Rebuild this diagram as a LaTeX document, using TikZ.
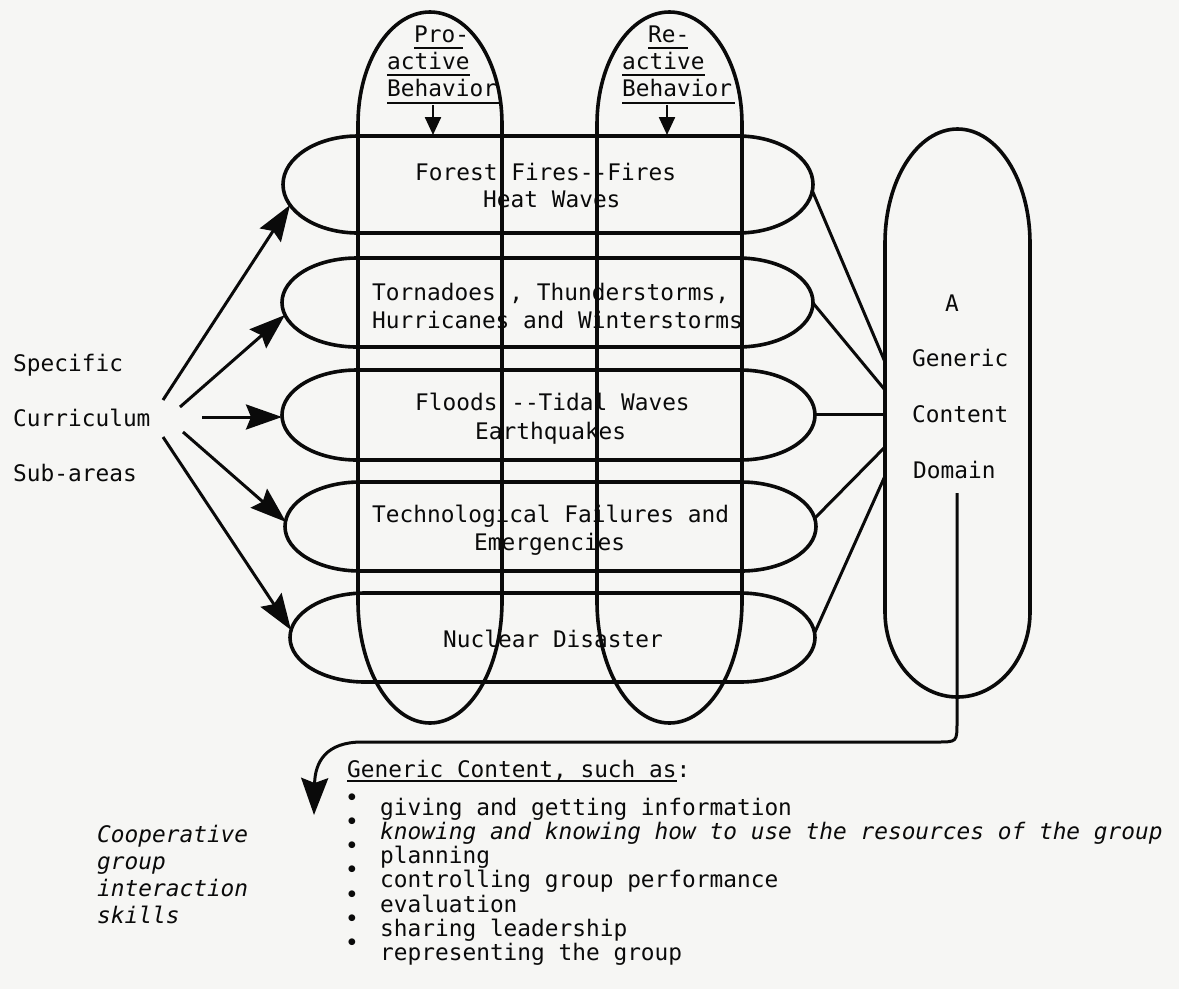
\documentclass[tikz,border=0pt]{standalone}
\usepackage{fontspec}
\setmainfont{DejaVu Sans Mono}[ItalicFont={DejaVu Sans Mono Oblique}]
\newfontfamily\symbolfont{DejaVu Sans}
\usetikzlibrary{arrows.meta,calc}

\definecolor{paper}{RGB}{246,246,244}
\definecolor{ink}{RGB}{10,10,10}

\tikzset{
  outline/.style={draw=ink, line width=3.6pt},
  link/.style={draw=ink, line width=3pt},
  fanarrow/.style={link, -{Stealth[length=36pt,width=25pt,inset=5pt]}},
  droparrow/.style={link, -{Stealth[length=37pt,width=27pt,inset=5pt]}},
  tagarrow/.style={draw=ink, line width=2.4pt, -{Triangle[length=18pt,width=16pt]}},
  txt/.style={anchor=base west, inner sep=0pt, text=ink, font=\fontsize{22.8}{27}\selectfont},
  dot/.style={anchor=center, inner sep=0pt, text=ink, font=\symbolfont\fontsize{8.8}{10}\selectfont},
  uline/.style={draw=ink, line width=1.4pt},
}

% horizontal stadium: left tip, right tip, top, bottom
\newcommand\hstadium[4]{%
  \draw[outline] ({#1+75},#3) -- ({#2-75},#3)
    arc[start angle=-90, end angle=90, x radius=75, y radius={(#4-#3)/2}]
    -- ({#1+75},#4)
    arc[start angle=90, end angle=270, x radius=75, y radius={(#4-#3)/2}]
    -- cycle;}

% vertical stadium: left, right, top, bottom, top cap depth, bottom cap depth
\newcommand\vstadium[6]{%
  \draw[outline] (#1,{#3+#5}) -- (#1,{#4-#6})
    arc[start angle=180, end angle=0, x radius={(#2-#1)/2}, y radius=#6]
    -- (#2,{#3+#5})
    arc[start angle=0, end angle=-180, x radius={(#2-#1)/2}, y radius=#5]
    -- cycle;}

\begin{document}
\begin{tikzpicture}[x=1pt, y=-1pt]
\useasboundingbox (0,0) rectangle (1179,989);
\fill[paper] (0,0) rectangle (1179,989);

% five curriculum sub-areas
\hstadium{283}{813}{136}{233}
\hstadium{282}{813}{258}{347}
\hstadium{282}{815}{370}{460}
\hstadium{285}{816}{482}{571}
\hstadium{290}{815}{593}{682}

% behaviour columns and the generic domain
\vstadium{358}{502}{12}{723}{112}{122}
\vstadium{597}{742}{12}{723}{112}{122}
\vstadium{885}{1030}{129}{697}{114}{85}

% left labels
\node[txt] (spec) at (13,371) {Specific};
\node[txt] (curr) at (13,426) {Curriculum};
\node[txt] (suba) at (13,481) {Sub-areas};

% column headings
\node[txt] (pro1) at (414,42) {Pro-};
\node[txt] (pro2) at (387,69) {active};
\node[txt] (pro3) at (387,96) {Behavior};
\node[txt] (re1) at (648,42) {Re-};
\node[txt] (re2) at (622,69) {active};
\node[txt] (re3) at (622,96) {Behavior};
\draw[uline] ($(pro1.base west)+(0,6)$) -- ($(pro1.base east)+(-6,6)$);
\draw[uline] ($(pro2.base west)+(0,6)$) -- ($(pro2.base east)+(0,6)$);
\draw[uline] ($(pro3.base west)+(0,7)$) -- ($(pro3.base east)+(3,7)$);
\draw[uline] ($(re1.base west)+(0,6)$) -- ($(re1.base east)+(-2,6)$);
\draw[uline] ($(re2.base west)+(0,6)$) -- ($(re2.base east)+(0,6)$);
\draw[uline] ($(re3.base west)+(0,7)$) -- ($(re3.base east)+(3,7)$);

% sub-area texts
\node[txt] (t1a) at (415,180) {Forest Fires-{}-Fires};
\node[txt] (t1b) at (483,207) {Heat Waves};
\node[txt] (t2a) at (372,300) {Tornadoes , Thunderstorms,};
\node[txt] (t2b) at (372,328) {Hurricanes and Winterstorms};
\node[txt] (t3a) at (415,410) {Floods -{}-Tidal Waves};
\node[txt] (t3b) at (475,439) {Earthquakes};
\node[txt] (t4a) at (372,522) {Technological Failures and};
\node[txt] (t4b) at (474,550) {Emergencies};
\node[txt] (t5) at (443,647) {Nuclear Disaster};

% domain text
\node[txt] (dA) at (945,311) {A};
\node[txt] (dG) at (912,366) {Generic};
\node[txt] (dC) at (912,422) {Content};
\node[txt] (dD) at (913,478) {Domain};

% heading arrows into the first sub-area
\coordinate (pa) at (433,105);
\coordinate (pb) at (433,135);
\coordinate (ra) at (667,105);
\coordinate (rb) at (667,135);
\draw[tagarrow] (pa) -- (pb);
\draw[tagarrow] (ra) -- (rb);

% fan of arrows from the left labels
\coordinate (f1) at (163,400); \coordinate (h1) at (290,205);
\coordinate (f2) at (180,407); \coordinate (h2) at (285,315);
\coordinate (f3) at (202,417); \coordinate (h3) at (282,417);
\coordinate (f4) at (183,432); \coordinate (h4) at (286,522);
\coordinate (f5) at (163,437); \coordinate (h5) at (291,630);
\draw[fanarrow] (f1) -- (h1);
\draw[fanarrow] (f2) -- (h2);
\draw[fanarrow] (f3) -- (h3);
\draw[fanarrow] (f4) -- (h4);
\draw[fanarrow] (f5) -- (h5);

% links from each sub-area to the domain
\coordinate (r1) at (812,190); \coordinate (d1) at (885,362);
\coordinate (r2) at (813,303); \coordinate (d2) at (885,390);
\coordinate (r3) at (815,414); \coordinate (d3) at (885,414);
\coordinate (r4) at (815,518); \coordinate (d4) at (885,447);
\coordinate (r5) at (815,632); \coordinate (d5) at (885,476);
\draw[link] (r1) -- (d1);
\draw[link] (r2) -- (d2);
\draw[link] (r3) -- (d3);
\draw[link] (r4) -- (d4);
\draw[link] (r5) -- (d5);

% generic content list
\node[txt] (gc) at (347,777) {Generic Content, such as:};
\draw[uline] ($(gc.base west)+(0,4)$) -- (677,781);
\node[txt] (i1) at (380,815) {giving and getting information};
\node[txt] (i2) at (380,839) {\itshape knowing and knowing how to use the resources of the group};
\node[txt] (i3) at (380,863) {planning};
\node[txt] (i4) at (380,887) {controlling group performance};
\node[txt] (i5) at (380,912) {evaluation};
\node[txt] (i6) at (380,936) {sharing leadership};
\node[txt] (i7) at (380,960) {representing the group};
\foreach \b/\y in {b1/797, b2/821, b3/845, b4/869, b5/894, b6/918, b7/942}
  \node[dot] (\b) at (352,\y) {●};

\node[txt] (co1) at (97,842) {\itshape Cooperative};
\node[txt] (co2) at (97,869) {\itshape group};
\node[txt] (co3) at (97,896) {\itshape interaction};
\node[txt] (co4) at (97,923) {\itshape skills};

% drop from the domain down to the content list
\coordinate (dstem) at (957,493);
\coordinate (coop) at (314,815);
\draw[droparrow] (dstem) -- (957,722) .. controls (957,742) .. (937,742)
  -- (362,742) .. controls (326,742) and (315,762) .. (coop);
\end{tikzpicture}
\end{document}
